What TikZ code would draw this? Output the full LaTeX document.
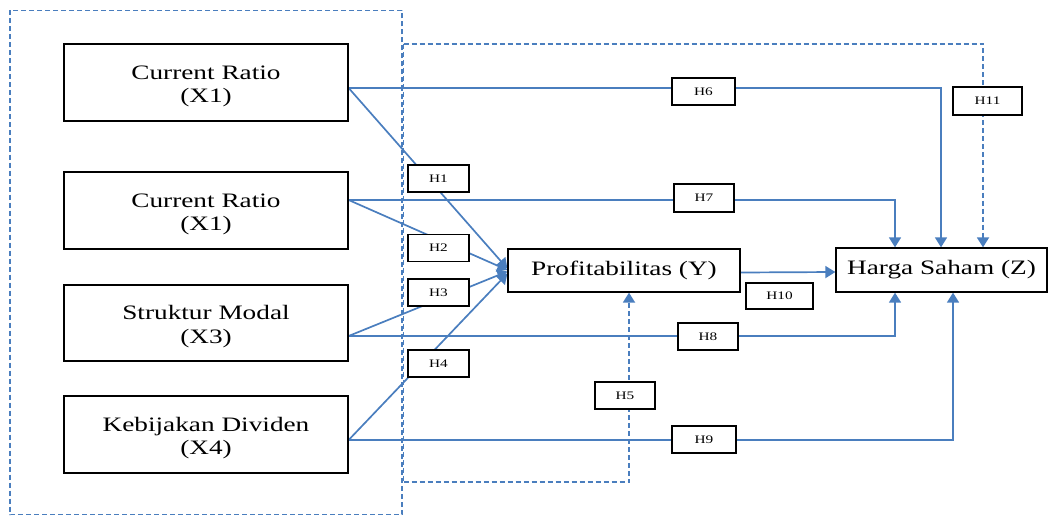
\documentclass[tikz,border=0pt]{standalone}
\usepackage{fontspec}
\setmainfont{Liberation Serif}
\usepackage{graphicx}
\usetikzlibrary{arrows.meta,backgrounds}
\definecolor{lnblue}{RGB}{74,126,190}
\newcommand{\wx}[1]{\scalebox{1.33}[1]{#1}}
\newcommand{\topgap}{\rule{0pt}{21pt}}
\begin{document}
\begin{tikzpicture}[x=1pt,y=-1pt,
 bigbox/.style={draw=black, line width=1.3pt, fill=white, inner sep=0pt, align=center, font=\fontsize{20.5}{23.5}\selectfont},
 hbox/.style={draw=black, line width=1.4pt, fill=white, minimum width=61pt, minimum height=27pt, inner sep=0pt, font=\fontsize{11.5}{13}\selectfont},
 conn/.style={draw=lnblue, line width=1.7pt},
 arr/.style={conn, -{Triangle[length=10pt,width=12pt]}},
 dline/.style={draw=lnblue, line width=1.8pt, dash pattern=on 5pt off 3pt},
 darr/.style={dline, -{Triangle[length=10pt,width=12pt]}}
]
\useasboundingbox (0,0) rectangle (1057,516);

% main boxes
\node[bigbox, minimum width=284pt, minimum height=77pt] (x1a) at (206,82.5) {\wx{\topgap Current Ratio}\\\wx{(X1)}};
\node[bigbox, minimum width=284pt, minimum height=77pt] (x1b) at (206,210.5) {\wx{\topgap Current Ratio}\\\wx{(X1)}};
\node[bigbox, minimum width=284pt, minimum height=76pt] (x3) at (206,323) {\wx{\topgap Struktur Modal}\\\wx{(X3)}};
\node[bigbox, minimum width=284pt, minimum height=77pt] (x4) at (206,434.5) {\wx{\topgap Kebijakan Dividen}\\\wx{(X4)}};
\node[bigbox, minimum width=232pt, minimum height=43pt] (Y) at (624,270.5) {\wx{Profitabilitas (Y)}};
\node[bigbox, minimum width=211pt, minimum height=44pt] (Z) at (941.5,270) {\wx{Harga Saham (Z)}};

% hypothesis labels
\node[hbox] (h1) at (438.5,178.5) {\wx{H1}};
\node[hbox] (h2) at (438.5,248) {\wx{H2}};
\node[hbox] (h3) at (438.5,292.5) {\wx{H3}};
\node[hbox] (h4) at (438.5,363.5) {\wx{H4}};
\node[hbox, minimum width=60pt] (h5) at (625,395.5) {\wx{H5}};
\node[hbox, minimum width=63pt] (h6) at (703.5,91.5) {\wx{H6}};
\node[hbox, minimum width=60pt, minimum height=28pt] (h7) at (704,198) {\wx{H7}};
\node[hbox, minimum width=60pt] (h8) at (708,336.5) {\wx{H8}};
\node[hbox, minimum width=64pt] (h9) at (704,439.5) {\wx{H9}};
\node[hbox, minimum width=67pt, minimum height=26pt] (h10) at (779.5,296) {\wx{H10}};
\node[hbox, minimum width=69pt, minimum height=28pt] (h11) at (987.5,101) {\wx{H11}};

\coordinate (d1) at (403.5,44);
\coordinate (d2) at (403.5,482);

\begin{pgfonlayer}{background}
% dashed frames
\draw[dline] (10,10.5) rectangle (402,514.5);
\draw[dline] (d1) -- (d2);
\draw[darr] (d1) -| ([xshift=41.5pt]Z.north);
\draw[darr] (d2) -| ([xshift=5pt]Y.south);
% paths to Profitabilitas
\draw[arr] ([yshift=-5.5pt]x1a.east) -- ([yshift=2pt]Y.west);
\draw[arr] ([yshift=10.5pt]x1b.east) -- ([yshift=0.5pt]Y.west);
\draw[arr] ([yshift=-13pt]x3.east) -- ([yshift=-1pt]Y.west);
\draw[arr] ([yshift=-5.5pt]x4.east) -- ([yshift=-3pt]Y.west);
% paths to Harga Saham
\draw[arr] ([yshift=-5.5pt]x1a.east) -| ([xshift=-0.5pt]Z.north);
\draw[arr] ([yshift=10.5pt]x1b.east) -| ([xshift=-46.5pt]Z.north);
\draw[arr] ([yshift=-13pt]x3.east) -| ([xshift=-46.5pt]Z.south);
\draw[arr] ([yshift=-5.5pt]x4.east) -| ([xshift=11.5pt]Z.south);
\draw[arr] ([yshift=-2pt]Y.east) -- ([yshift=-2pt]Z.west);
\end{pgfonlayer}
\end{tikzpicture}
\end{document}
